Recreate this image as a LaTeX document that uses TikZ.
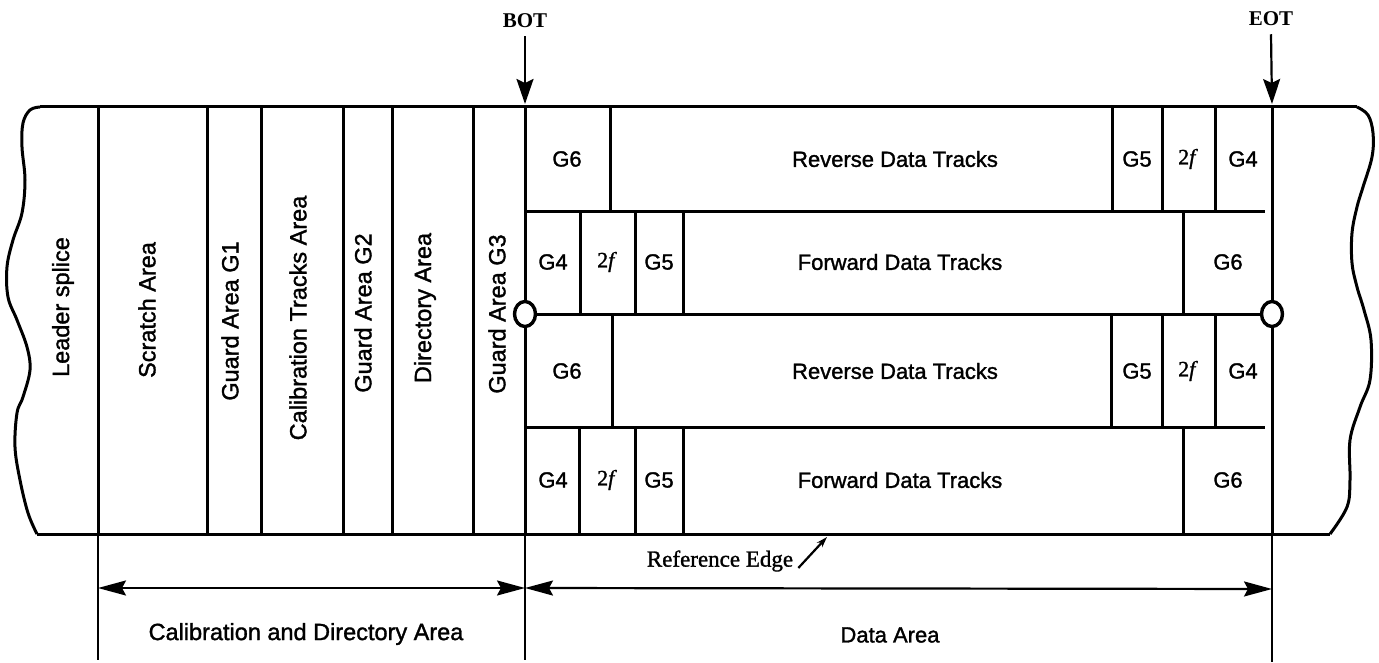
\documentclass[tikz,border=0pt]{standalone}
\usepackage{fontspec}
\setmainfont{Liberation Serif}
\setsansfont{Liberation Sans}
\newfontfamily\tapefont{Liberation Sans}[FakeBold=1.4]
\newfontfamily\markfont{Liberation Serif}[FakeBold=1.2]
\usetikzlibrary{arrows.meta}
\usetikzlibrary{shapes.geometric}

\tikzset{
  lbl/.style={font=\tapefont\fontsize{22}{24}\selectfont, inner sep=1pt},
  vlbl/.style={lbl, font=\tapefont\fontsize{23.5}{26}\selectfont, rotate=90},
  marklbl/.style={font=\rmfamily\bfseries\fontsize{21}{24}\selectfont, inner sep=1pt},
  reflbl/.style={font=\markfont\fontsize{23}{26}\selectfont, inner sep=1pt},
  tapeline/.style={black, line width=3pt},
  thinline/.style={black, line width=2.2pt},
  ring/.style={ellipse, draw, line width=3.4pt, fill=white, minimum width=21pt, minimum height=25pt, inner sep=0pt},
  dimarrow/.style={thinline, {Stealth[length=28pt,width=15pt,inset=4pt]}-{Stealth[length=28pt,width=15pt,inset=4pt]}},
}

\begin{document}
\begin{tikzpicture}[x=1pt,y=-1pt]
\useasboundingbox (0,0) rectangle (1379,663);
\draw[tapeline] plot[smooth, tension=0.6] coordinates {(40,107) (30,110) (23,123) (22,147) (25,180) (22,213) (13,240) (7,267) (8,297) (17,320) (27,347) (30,370) (23,397) (17,413) (15,447) (20,480) (28,513) (37,534)};
\draw[tapeline] plot[smooth, tension=0.6] coordinates {(1357,107) (1368,115) (1373,133) (1372,157) (1363,187) (1357,207) (1352,233) (1352,263) (1357,287) (1364,310) (1371,340) (1370,380) (1360,407) (1350,440) (1350,480) (1347,507) (1330,534)};
\draw[tapeline] (40,107) -- (1357,107);
\draw[tapeline] (37,534) -- (1330,534);
\foreach \x in {98,207,261,343,392,473} {
 \draw[tapeline] (\x,107) -- (\x,534);
}
\draw[thinline] (98,534) -- (98,660);
\draw[tapeline] (525,107) -- (525,534);
\draw[thinline] (525,534) -- (525,660);
\draw[tapeline] (1272,107) -- (1272,534);
\draw[thinline] (1272,534) -- (1272,662);
\node[vlbl] (leader) at (63,307) {Leader splice};
\node[vlbl] (scratch) at (147,310) {Scratch Area};
\node[vlbl] (gone) at (230,321) {Guard Area G1};
\node[vlbl] (caltracks) at (298,318) {Calibration Tracks Area};
\node[vlbl] (gtwo) at (363,313) {Guard Area G2};
\node[vlbl] (directory) at (425,308) {Directory Area};
\node[vlbl] (gthree) at (497,314) {Guard Area G3};
\draw[tapeline] (525,212) -- (1265,212);
\draw[tapeline] (525,427) -- (1265,427);
\foreach \x in {610,1112,1162,1215} {
 \draw[tapeline] (\x,107) -- (\x,212);
}
\foreach \x in {580,635,683,1183} {
 \draw[tapeline] (\x,212) -- (\x,314);
}
\foreach \x in {612,1111,1162,1215} {
 \draw[tapeline] (\x,314) -- (\x,427);
}
\foreach \x in {579,635,683,1183} {
 \draw[tapeline] (\x,427) -- (\x,534);
}
\foreach \y/\r in {159/a,371/c} {
 \node[lbl] (gsix\r) at (567,\y) {G6};
 \node[lbl] (rev\r) at (895,\y) {Reverse Data Tracks};
 \node[lbl] (gfive\r) at (1137,\y) {G5};
 \node[lbl] (twof\r) at (1188,\y) {\markfont 2\textit{f}};
 \node[lbl] (gfour\r) at (1243,\y) {G4};
}
\foreach \y/\r in {262/b,480/d} {
 \node[lbl] (gfour\r) at (553,\y) {G4};
 \node[lbl] (twof\r) at (607,\y) {\markfont 2\textit{f}};
 \node[lbl] (gfive\r) at (659,\y) {G5};
 \node[lbl] (fwd\r) at (900,\y) {Forward Data Tracks};
 \node[lbl] (gsix\r) at (1228,\y) {G6};
}
\node[ring] (botring) at (525,314) {};
\node[ring] (eotring) at (1272,314) {};
\draw[tapeline] (botring.east) -- (eotring.west);
\node[marklbl] (bot) at (525,21) {BOT};
\node[marklbl] (eot) at (1271,19) {EOT};
\coordinate (bottop) at (525,104);
\coordinate (eottop) at (1272,104);
\draw[thinline, -{Stealth[length=25pt,width=17pt,inset=4pt]}] ([yshift=-7pt]bot.south) -- (bottop);
\draw[thinline, -{Stealth[length=25pt,width=17pt,inset=4pt]}] ([yshift=-7pt]eot.south) -- (eottop);
\coordinate (calend) at (98,588);
\coordinate (botdim) at (525,588);
\coordinate (eotdim) at (1272,589);
\draw[dimarrow] (calend) -- (botdim);
\draw[dimarrow] (botdim) -- (eotdim);
\node[lbl, font=\tapefont\fontsize{23.5}{26}\selectfont] (calarea) at (306,634) {Calibration and Directory Area};
\node[lbl] (dataarea) at (890,635) {Data Area};
\node[reflbl] (refedge) at (720,561) {Reference Edge};
\coordinate (reftip) at (827,537);
\draw[thinline, -{Stealth[length=11pt,width=7pt]}] ([xshift=4pt,yshift=-7pt]refedge.east) -- (reftip);
\end{tikzpicture}
\end{document}
